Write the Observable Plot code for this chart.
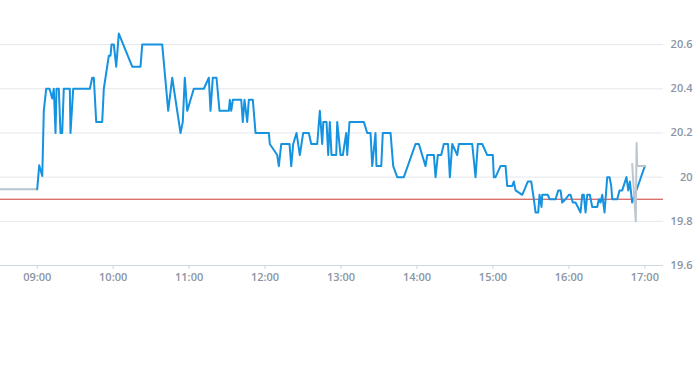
<!DOCTYPE html>
<html>
<head>
<meta charset="utf-8">
<script src="https://cdn.jsdelivr.net/npm/d3@7"></script>
<script src="https://cdn.jsdelivr.net/npm/@observablehq/plot@0.6"></script>
<style>
  html, body { margin: 0; padding: 0; background: #ffffff; }
  #chart { width: 693px; height: 365px; overflow: hidden; }
</style>
</head>
<body>
<div id="chart"></div>
<script>
// Session (blue) series
const times = [
  "09:00:00","09:01:35","09:04:00","09:05:12","09:07:06","09:09:43","09:11:51","09:13:07","09:14:28","09:15:15",
  "09:17:04","09:18:24","09:19:45","09:21:00","09:25:45","09:26:18","09:28:26","09:41:33","09:43:27","09:44:43",
  "09:46:37","09:51:21","09:52:37","09:56:34","09:57:54","09:58:42","10:00:31","10:02:25","10:04:28","10:15:03",
  "10:21:36","10:22:57","10:38:45","10:43:29","10:46:39","10:53:12","10:55:00","10:56:36","10:58:30","11:03:43",
  "11:11:37","11:15:34","11:16:54","11:18:43","11:21:39","11:24:00","11:31:22","11:32:10","11:33:16","11:34:32",
  "11:41:10","11:42:25","11:43:46","11:45:54","11:47:10","11:50:20","11:52:28","12:03:00","12:03:45","12:09:36",
  "12:10:52","12:12:46","12:19:19","12:20:40","12:22:14","12:24:50","12:27:27","12:30:08","12:34:34","12:36:28",
  "12:41:12","12:43:15","12:45:09","12:46:00","12:48:33","12:49:53","12:51:09","12:52:30","12:56:13","12:57:00",
  "12:59:37","13:01:26","13:04:07","13:04:54","13:06:43","13:18:00","13:20:42","13:23:18","13:24:39","13:27:15",
  "13:28:00","13:31:46","13:33:00","13:39:07","13:41:14","13:44:24","13:49:37","13:58:52","14:01:28","14:06:45",
  "14:08:06","14:13:20","14:14:40","14:16:28","14:19:10","14:21:13","14:24:32","14:26:00","14:27:51","14:31:48",
  "14:33:04","14:43:39","14:46:15","14:48:05","14:51:33","14:55:30","14:59:55","15:00:43","15:02:03","15:06:00",
  "15:10:00","15:11:18","15:15:15","15:16:30","15:17:52","15:23:09","15:27:34","15:30:16","15:32:19","15:33:40",
  "15:35:47","15:36:49","15:38:24","15:38:57","15:43:22","15:44:43","15:49:28","15:51:36","15:53:25","15:54:45",
  "15:57:21","15:59:58","16:01:18","16:03:07","16:05:15","16:07:05","16:09:13","16:10:33","16:11:49","16:13:10",
  "16:14:30","16:16:33","16:18:27","16:22:24","16:23:40","16:25:00","16:26:21","16:28:10","16:30:18","16:32:07",
  "16:33:28","16:34:15","16:38:12","16:40:00","16:42:09","16:45:30","16:46:54","16:48:10","16:50:00","17:00:00"
];
const prices = [
  19.945,20.054,20.005,20.30,20.40,20.40,20.356,20.40,20.20,20.40,
  20.40,20.20,20.20,20.40,20.40,20.20,20.40,20.40,20.45,20.45,
  20.25,20.25,20.40,20.55,20.55,20.60,20.60,20.50,20.65,20.50,
  20.50,20.60,20.60,20.30,20.45,20.20,20.25,20.45,20.30,20.40,
  20.40,20.45,20.30,20.45,20.45,20.30,20.30,20.35,20.30,20.35,
  20.35,20.25,20.35,20.25,20.35,20.35,20.20,20.20,20.15,20.10,
  20.05,20.15,20.15,20.05,20.15,20.20,20.10,20.20,20.20,20.15,
  20.15,20.30,20.15,20.25,20.25,20.10,20.25,20.10,20.10,20.25,
  20.10,20.10,20.20,20.10,20.25,20.25,20.20,20.20,20.05,20.20,
  20.05,20.05,20.20,20.20,20.05,20.00,20.00,20.15,20.15,20.05,
  20.10,20.10,20.00,20.10,20.10,20.15,20.15,20.00,20.15,20.10,
  20.15,20.15,20.00,20.15,20.15,20.10,20.10,20.00,20.00,20.05,
  20.05,19.96,19.96,19.98,19.94,19.92,19.98,19.98,19.90,19.84,
  19.84,19.92,19.865,19.92,19.92,19.90,19.90,19.94,19.94,19.885,
  19.90,19.92,19.92,19.885,19.885,19.865,19.84,19.92,19.92,19.84,
  19.92,19.92,19.865,19.865,19.90,19.885,19.92,19.84,20.00,20.00,
  19.96,19.90,19.90,19.94,19.94,20.00,19.94,19.98,19.885,20.05
];
// Pre-session (grey) series
const preTimes = ["08:31:00", "09:00:00"];
const prePrices = [19.945, 19.945];
// After-session (grey) series
const postTimes = ["16:50:00", "16:52:50", "16:53:30", "16:54:00", "17:00:00"];
const postPrices = [20.06, 19.80, 20.155, 20.05, 20.05];
// Reference (previous close)
const refPrice = 19.9;
// Axis ticks
const xTickLabels = ["09:00","10:00","11:00","12:00","13:00","14:00","15:00","16:00","17:00"];
const yTicks = [19.6, 19.8, 20.0, 20.2, 20.4, 20.6];
const xDomain = ["08:31:00", "17:14:45"];
const yDomain = [19.6, 20.7];

const parse = d3.timeParse("%H:%M:%S");
const parseHM = d3.timeParse("%H:%M");
const n = Math.min(times.length, prices.length);
const main = d3.range(n).map(i => ({t: parse(times[i]), v: prices[i]}));
const pre = preTimes.map((t, i) => ({t: parse(t), v: prePrices[i]}));
const post = postTimes.map((t, i) => ({t: parse(t), v: postPrices[i]}));
const xTicks = xTickLabels.map(parseHM);

const textColor = "#8a94a4";
const chart = Plot.plot({
  width: 693,
  height: 365,
  marginLeft: 0,
  marginRight: 30,
  marginTop: 22,
  marginBottom: 100,
  style: {fontFamily: "'Open Sans', sans-serif", fontSize: "11px", fontWeight: 600, color: textColor, background: "#ffffff"},
  x: {type: "time", domain: xDomain.map(parse)},
  y: {domain: yDomain},
  marks: [
    Plot.gridY(yTicks.slice(1), {stroke: "#e4e7ec", strokeOpacity: 1}),
    Plot.ruleY([yDomain[0]], {stroke: "#cfd5de", strokeWidth: 1}),
    Plot.axisX(xTicks, {tickSize: 4, tickPadding: 4, stroke: "#cfd5de", fill: textColor, tickFormat: d3.timeFormat("%H:%M"), label: null}),
    Plot.axisY(yTicks, {anchor: "right", tickSize: 0, tickPadding: 3, textAnchor: "end", dx: 26, fill: textColor, tickFormat: d => d3.format("")(+d.toFixed(1)), label: null}),
    Plot.ruleY([refPrice], {stroke: "#cc3b35", strokeWidth: 1}),
    Plot.line(pre, {x: "t", y: "v", stroke: "#b9c3cc", strokeWidth: 2}),
    Plot.line(main, {x: "t", y: "v", stroke: "#1592e0", strokeWidth: 2, curve: "linear"}),
    Plot.line(post, {x: "t", y: "v", stroke: "#bcc6cf", strokeWidth: 2})
  ]
});
document.getElementById("chart").appendChild(chart);
</script>
</body>
</html>
